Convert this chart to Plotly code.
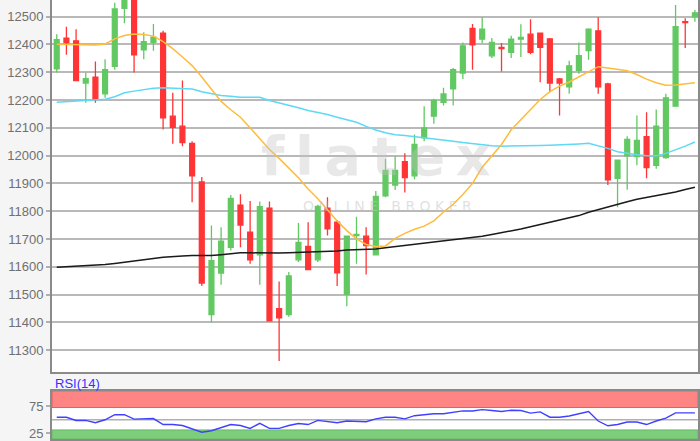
import plotly.graph_objects as go

# ---- data ----
idx = list(range(67))
opens = [12312, 12423, 12413, 12261, 12282, 12222, 12321, 12530, 12590, 12381,
         12408, 12441, 12142, 12106, 12044, 11905, 11428, 11577, 11670, 11822,
         11724, 11643, 11811, 11449, 11428, 11625, 11673, 11625, 11811, 11760,
         11501, 11712, 11710, 11643, 11855, 11894, 11978, 11927, 12064, 12142,
         12192, 12240, 12297, 12458, 12419, 12359, 12389, 12372, 12419, 12437,
         12441, 12420, 12276, 12247, 12307, 12378, 12449, 12258, 11918, 11999,
         11996, 12068, 11965, 11993, 12178, 12482, 12500]
highs = [12437, 12464, 12455, 12299, 12339, 12347, 12550, 12600, 12610, 12444,
         12474, 12449, 12226, 12270, 12052, 11923, 11748, 11742, 11858, 11861,
         11837, 11835, 11835, 11547, 11581, 11757, 11760, 11823, 11850, 11768,
         11712, 11780, 11742, 11873, 11989, 11998, 12008, 12076, 12178, 12205,
         12244, 12315, 12407, 12474, 12498, 12423, 12405, 12431, 12473, 12491,
         12443, 12423, 12279, 12341, 12407, 12458, 12498, 12262, 11984, 12070,
         12144, 12156, 12166, 12223, 12542, 12494, 12524]
lows = [12299, 12363, 12268, 12190, 12190, 12208, 12309, 12476, 12299, 12347,
        12377, 12094, 12043, 12034, 11832, 11531, 11399, 11535, 11658, 11670,
        11611, 11535, 11403, 11261, 11420, 11617, 11587, 11617, 11712, 11531,
        11458, 11611, 11572, 11640, 11850, 11876, 11867, 11915, 12052, 12115,
        12180, 12180, 12276, 12309, 12405, 12351, 12303, 12351, 12355, 12365,
        12264, 12228, 12144, 12223, 12295, 12345, 12223, 11894, 11814, 11877,
        11965, 11918, 11953, 11989, 12178, 12387, 12482]
closes = [12417, 12407, 12270, 12277, 12202, 12309, 12528, 12585, 12363, 12410,
          12426, 12136, 12102, 12047, 11927, 11541, 11622, 11692, 11846, 11750,
          11625, 11816, 11405, 11416, 11567, 11688, 11590, 11817, 11736, 11578,
          11710, 11716, 11676, 11853, 11947, 11947, 11921, 12040, 12100, 12199,
          12222, 12309, 12395, 12399, 12455, 12407, 12385, 12419, 12425, 12372,
          12390, 12261, 12261, 12323, 12360, 12455, 12247, 11913, 11984, 12058,
          12055, 11957, 12106, 12208, 12464, 12479, 12514]

ma_orange = [12401, 12400, 12399, 12398, 12398, 12402, 12420, 12432, 12438, 12436,
             12430, 12410, 12385, 12355, 12324, 12283, 12240, 12195, 12165, 12138,
             12100, 12062, 12022, 11990, 11955, 11920, 11880, 11845, 11805, 11765,
             11730, 11700, 11680, 11673, 11675, 11702, 11720, 11735, 11746, 11765,
             11797, 11825, 11860, 11900, 11958, 12000, 12040, 12093, 12130, 12168,
             12202, 12230, 12250, 12265, 12283, 12302, 12320, 12315, 12310, 12305,
             12292, 12275, 12262, 12253, 12254, 12258, 12262]
ma_cyan = [12192, 12194, 12196, 12198, 12199, 12203, 12212, 12226, 12232, 12237,
           12242, 12244, 12242, 12241, 12240, 12230, 12224, 12216, 12214, 12210,
           12210, 12210, 12198, 12190, 12180, 12172, 12162, 12155, 12148, 12138,
           12128, 12120, 12105, 12092, 12082, 12075, 12072, 12068, 12066, 12062,
           12058, 12052, 12047, 12043, 12037, 12035, 12034, 12034, 12034, 12035,
           12036, 12037, 12038, 12040, 12042, 12044, 12036, 12026, 12014, 12008,
           12003, 11999, 11999, 12008, 12020, 12034, 12049]
ma_black = [11598, 11600, 11602, 11603, 11605, 11608, 11612, 11617, 11621, 11625,
            11630, 11634, 11637, 11639, 11640, 11640, 11640, 11643, 11647, 11650,
            11650, 11649, 11648, 11649, 11650, 11651, 11652, 11653, 11655, 11657,
            11660, 11661, 11662, 11664, 11668, 11672, 11676, 11680, 11685, 11689,
            11693, 11697, 11700, 11704, 11710, 11716, 11722, 11728, 11736, 11744,
            11752, 11758, 11766, 11774, 11784, 11796, 11806, 11815, 11824, 11834,
            11843, 11849, 11855, 11861, 11869, 11878, 11886]
rsi = [54.8, 54.8, 48.8, 48.8, 44.6, 50.0, 59.5, 59.5, 51.3, 52.3,
       52.3, 41.1, 41.1, 39.3, 33.0, 26.8, 29.5, 34.8, 41.1, 39.3,
       33.9, 43.4, 33.9, 33.9, 39.3, 42.9, 41.1, 48.8, 46.4, 44.6,
       47.7, 46.4, 46.4, 51.8, 54.8, 54.8, 51.8, 57.7, 59.8, 61.3,
       61.3, 64.3, 66.6, 66.6, 69.1, 67.3, 65.5, 67.9, 67.3, 62.5,
       64.8, 54.8, 54.8, 57.1, 60.7, 65.5, 47.7, 38.8, 41.1, 45.9,
       45.9, 41.1, 47.7, 53.0, 63.0, 63.0, 63.0]

price_ticks = [11300, 11400, 11500, 11600, 11700, 11800, 11900, 12000,
               12100, 12200, 12300, 12400, 12500]
rsi_ticks = [25, 75]

GREEN = "#62c962"
RED = "#ff3535"
FONT = "Arial, Liberation Sans, sans-serif"

fig = go.Figure()

fig.add_trace(go.Scatter(x=idx, y=ma_black, mode="lines",
                         line=dict(color="#1a1a1a", width=1.5),
                         hoverinfo="skip", showlegend=False))
fig.add_trace(go.Scatter(x=idx, y=ma_cyan, mode="lines",
                         line=dict(color="#5fd8f5", width=1.5),
                         hoverinfo="skip", showlegend=False))
fig.add_trace(go.Scatter(x=idx, y=ma_orange, mode="lines",
                         line=dict(color="#ffbb3a", width=1.5),
                         hoverinfo="skip", showlegend=False))
fig.add_trace(go.Candlestick(
    x=idx, open=opens, high=highs, low=lows, close=closes,
    increasing=dict(line=dict(color=GREEN, width=1.3), fillcolor=GREEN),
    decreasing=dict(line=dict(color=RED, width=1.3), fillcolor=RED),
    showlegend=False))

fig.add_trace(go.Scatter(x=idx, y=rsi, mode="lines", xaxis="x2", yaxis="y2",
                         line=dict(color="#4040ff", width=1.4),
                         hoverinfo="skip", showlegend=False))

RSI_TOP = 104.1
RSI_BOT = 14.0

shapes = [
    dict(type="rect", xref="x2 domain", yref="y2", x0=0, x1=1, y0=73, y1=RSI_TOP,
         fillcolor="#ff8585", line=dict(color="#e06060", width=1), layer="below"),
    dict(type="rect", xref="x2 domain", yref="y2", x0=0, x1=1, y0=RSI_BOT, y1=31,
         fillcolor="#7dcd7d", line=dict(color="#66bb66", width=1), layer="below"),
    dict(type="line", xref="x2 domain", yref="y2", x0=0, x1=1, y0=50, y1=50,
         line=dict(color="#b0b0b0", width=1.5), layer="below"),
]

annotations = [
    dict(text="<b>f\u2009l\u2009a\u2009t\u2009e\u2009x</b>", x=33.0, y=11995,
         xref="x", yref="y", showarrow=False,
         font=dict(family="DejaVu Sans", size=54, color="rgba(195,195,195,0.38)")),
    dict(text="O N L I N E   B R O K E R", x=34.2, y=11819, xref="x", yref="y",
         showarrow=False, font=dict(family="DejaVu Sans", size=14,
                                    color="rgba(195,195,195,0.5)")),
    dict(text="RSI(14)", x=0.0015, y=1 - 385.7 / 441, xref="paper", yref="paper",
         xanchor="left", yanchor="middle", showarrow=False,
         font=dict(family=FONT, size=13, color="#3333ff")),
]

fig.update_layout(
    width=700, height=441,
    margin=dict(l=52, r=2, t=0, b=0),
    paper_bgcolor="#f5f5f5",
    plot_bgcolor="white",
    showlegend=False,
    boxgap=0.28,
    font=dict(family=FONT, size=13, color="#6e6e6e"),
    xaxis=dict(range=[-0.49, 66.32], domain=[0, 1], showgrid=False,
               showticklabels=False, ticks="", zeroline=False,
               showline=True, linecolor="#8a8a8a", linewidth=2,
               rangeslider=dict(visible=False), anchor="y"),
    yaxis=dict(range=[11220, 12560], domain=[1 - 374 / 441, 1],
               tickvals=price_ticks, ticktext=[str(v) for v in price_ticks],
               showgrid=True, gridcolor="#b9b9b9", gridwidth=2,
               ticks="outside", ticklen=4, tickcolor="#b0b0b0", tickwidth=2,
               showline=True, linecolor="#8a8a8a", linewidth=2, mirror=True,
               zeroline=False, tickfont=dict(size=13, color="#707070"),
               ticklabeloverflow="allow", anchor="x"),
    xaxis2=dict(range=[-0.49, 66.32], domain=[0, 1],
                showgrid=False, showticklabels=False, ticks="", zeroline=False,
                showline=True, linecolor="#8a8a8a", linewidth=2, mirror=True,
                anchor="y2"),
    yaxis2=dict(range=[RSI_BOT, RSI_TOP], domain=[0, 1 - 392.7 / 441],
                tickvals=rsi_ticks, ticktext=[str(v) for v in rsi_ticks],
                showgrid=False, ticks="outside", ticklen=4, tickcolor="#b0b0b0",
                tickwidth=2, showline=True, linecolor="#8a8a8a", linewidth=2,
                mirror=True, zeroline=False,
                tickfont=dict(size=13, color="#707070"),
                ticklabeloverflow="allow", anchor="x2"),
    shapes=shapes,
    annotations=annotations,
)

fig.write_html("out.html",
               config={"displayModeBar": False},
               post_script="document.body.style.margin='0';"
                           "document.body.style.overflow='hidden';")
